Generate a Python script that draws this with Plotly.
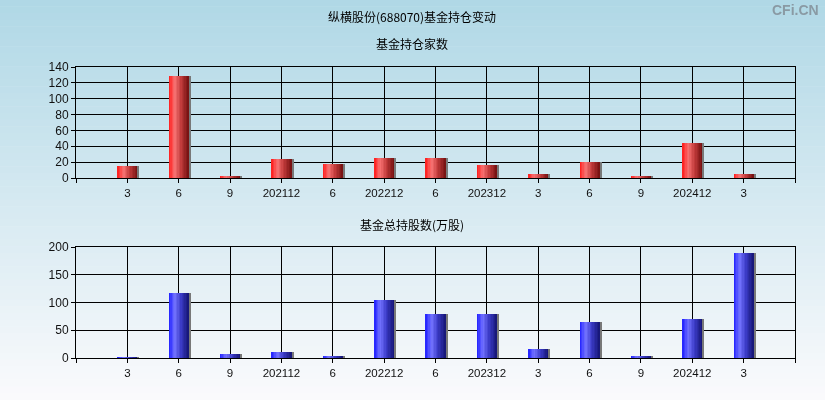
import plotly.graph_objects as go

categories = ["3", "6", "9", "202112", "6", "202212", "6", "202312", "3", "6", "9", "202412", "3"]
fund_count = [15, 129, 3, 24, 18, 25, 25, 17, 5, 20, 2, 44, 5]
fund_shares = [2, 118, 8, 11, 4, 105, 80, 80, 17, 65, 4, 71, 190]

main_title = "纵横股份(688070)基金持仓变动"
sub1 = "基金持仓家数"
sub2 = "基金总持股数(万股)"

W, H = 825, 400
ML, MR = 76, 30
PW = W - ML - MR
fig = go.Figure()

xs = list(range(len(categories)))

# background gradient
top_c = (176, 216, 230)
bot_c = (250, 250, 252)
NB = 60
for i in range(NB):
    t = i / (NB - 1)
    c = tuple(int(round(top_c[k] + (bot_c[k] - top_c[k]) * t)) for k in range(3))
    fig.add_shape(type="rect", xref="paper", yref="paper",
                  x0=-ML / PW - 0.01, x1=1 + MR / PW + 0.01,
                  y0=1 - (i + 1) / NB, y1=1 - i / NB + 0.001,
                  fillcolor="rgb(%d,%d,%d)" % c, line=dict(width=0), layer="below")


def lerp_stops(stops, t):
    for j in range(len(stops) - 1):
        p0, c0 = stops[j]
        p1, c1 = stops[j + 1]
        if p0 <= t <= p1:
            u = (t - p0) / (p1 - p0)
            return tuple(int(round(c0[k] + (c1[k] - c0[k]) * u)) for k in range(3))
    return stops[-1][1]


red_stops = [(0, (255, 25, 25)), (0.3, (248, 115, 115)), (0.6, (195, 60, 60)), (1, (115, 15, 15))]
blue_stops = [(0, (30, 30, 255)), (0.3, (115, 115, 255)), (0.6, (60, 60, 200)), (1, (20, 20, 115))]

BW = 0.39
NS = 14


def add_bars(vals, stops, xa, ya):
    # shadow
    fig.add_trace(go.Bar(x=xs, y=vals, width=BW, offset=-BW / 2 + 0.04,
                         marker=dict(color="rgb(120,120,120)", line=dict(width=0)),
                         xaxis=xa, yaxis=ya, hoverinfo="skip", showlegend=False))
    for i in range(NS):
        t = (i + 0.5) / NS
        c = lerp_stops(stops, t)
        fig.add_trace(go.Bar(x=xs, y=vals, width=BW / NS * 1.05, offset=-BW / 2 + i * BW / NS,
                             marker=dict(color="rgb(%d,%d,%d)" % c, line=dict(width=0)),
                             xaxis=xa, yaxis=ya, hoverinfo="skip", showlegend=False))


add_bars(fund_count, red_stops, "x", "y")
add_bars(fund_shares, blue_stops, "x2", "y2")

tickvals = list(range(-1, len(categories) + 1))
ticktext = [""] + categories + [""]

xcommon = dict(range=[-1, len(categories)], tickvals=tickvals, ticktext=ticktext,
               showgrid=True, gridcolor="black", gridwidth=1,
               showline=True, linecolor="black", linewidth=1, mirror=True,
               ticks="outside", ticklen=4, tickcolor="black",
               tickfont=dict(family="Liberation Sans, Arial", size=11.5, color="#111"),
               zeroline=False, fixedrange=True, automargin=False)
ycommon = dict(showgrid=True, gridcolor="black", gridwidth=1,
               showline=True, linecolor="black", linewidth=1, mirror=True,
               ticks="outside", ticklen=4, tickcolor="black",
               tickfont=dict(family="Liberation Sans, Arial", size=12, color="#111"),
               zeroline=False, fixedrange=True, automargin=False)

fig.update_layout(
    width=W, height=H,
    margin=dict(l=ML, r=MR, t=0, b=0, pad=0, autoexpand=False),
    paper_bgcolor="rgba(0,0,0,0)",
    plot_bgcolor="rgba(0,0,0,0)",
    barmode="overlay",
    bargap=0,
    showlegend=False,
    xaxis=dict(domain=[0, 1], anchor="y", **xcommon),
    yaxis=dict(domain=[1 - 178 / H, 1 - 67 / H], anchor="x", range=[0, 140],
               tickvals=[0, 20, 40, 60, 80, 100, 120, 140], **ycommon),
    xaxis2=dict(domain=[0, 1], anchor="y2", **xcommon),
    yaxis2=dict(domain=[1 - 358 / H, 1 - 247 / H], anchor="x2", range=[0, 200],
                tickvals=[0, 50, 100, 150, 200], **ycommon),
)

tfont = dict(family="Noto Sans CJK SC", size=12, color="black")
cx = (412 - ML) / PW
fig.add_annotation(text=main_title, xref="paper", yref="paper", x=cx,
                   y=1 - 17 / H, showarrow=False, font=tfont, xanchor="center", yanchor="middle")
fig.add_annotation(text=sub1, xref="paper", yref="paper", x=cx,
                   y=1 - 43 / H, showarrow=False, font=tfont, xanchor="center", yanchor="middle")
fig.add_annotation(text=sub2, xref="paper", yref="paper", x=cx,
                   y=1 - 224 / H, showarrow=False, font=tfont, xanchor="center", yanchor="middle")
fig.add_annotation(text="<b>CFi.CN</b>", xref="paper", yref="paper", x=(821 - ML) / PW,
                   y=1 - 10 / H, showarrow=False, xanchor="right", yanchor="middle",
                   font=dict(family="Liberation Sans, Arial", size=14, color="#8a9aa4"))

post = (
    "document.documentElement.style.margin='0';"
    "document.documentElement.style.padding='0';"
    "document.documentElement.style.overflow='hidden';"
    "document.body.style.margin='0';document.body.style.padding='0';"
    "document.body.style.overflow='hidden';"
    "var d=document.getElementById('{plot_id}');"
    "d.style.position='fixed';d.style.left='0px';d.style.top='0px';"
)
fig.write_html("out.html", config={"displayModeBar": False, "staticPlot": True},
               post_script=post)
